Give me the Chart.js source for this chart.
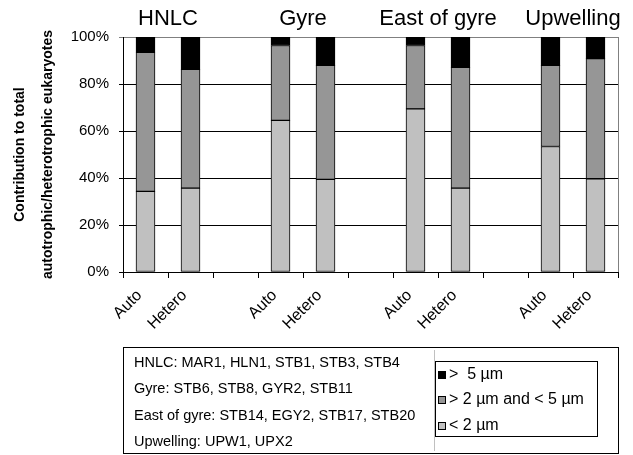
<!DOCTYPE html>
<html>
<head>
<meta charset="utf-8">
<script src="https://cdn.jsdelivr.net/npm/chart.js@4.4.1/dist/chart.umd.min.js"></script>
<style>
  html, body { margin: 0; padding: 0; background: #fff; }
  #box { width: 633px; height: 455px; }
</style>
</head>
<body>
<div id="box"><canvas id="GraficoTamanho"></canvas></div>
<script>
// data (percent of total, stacked to 100)
var categorias = ['Auto', 'Hetero', '', 'Auto', 'Hetero', '', 'Auto', 'Hetero', '', 'Auto', 'Hetero'];
var grupos = ['HNLC', 'Gyre', 'East of gyre', 'Upwelling'];
var menor2 = [34.3, 35.7, null, 64.5, 39.4, null, 69.4, 35.7, null, 53.4, 39.7];
var entre2e5 = [59.2, 50.5, null, 31.9, 48.5, null, 27.0, 51.4, null, 34.5, 51.1];
var maior5 = [6.5, 13.8, null, 3.6, 12.1, null, 3.6, 12.9, null, 12.1, 9.2];
var estacoes = [
    'HNLC: MAR1, HLN1, STB1, STB3, STB4',
    'Gyre: STB6, STB8, GYR2, STB11',
    'East of gyre: STB14, EGY2, STB17, STB20',
    'Upwelling: UPW1, UPX2'
];
var tituloY = ['Contribution to total', 'autotrophic/heterotrophic eukaryotes'];

var fonte = '"Liberation Sans", Arial, sans-serif';

// group names above the bars, axis title, right border and the box at the bottom
var extras = {
    id: 'extras',
    afterDraw: function (chart) {
        var ctx = chart.ctx;
        var x = chart.scales.x;
        var area = chart.chartArea;
        ctx.save();

        ctx.strokeStyle = '#808080';
        ctx.lineWidth = 1;
        ctx.beginPath();
        ctx.moveTo(Math.round(area.right) + 0.5, area.top);
        ctx.lineTo(Math.round(area.right) + 0.5, area.bottom);
        ctx.stroke();

        ctx.fillStyle = '#000';
        ctx.font = '22px ' + fonte;
        ctx.textAlign = 'center';
        ctx.textBaseline = 'middle';
        for (var i = 0; i < grupos.length; i++) {
            var cx = (x.getPixelForValue(i * 3) + x.getPixelForValue(i * 3 + 1)) / 2;
            ctx.fillText(grupos[i], cx, 19);
        }

        ctx.font = 'bold 14px ' + fonte;
        var meio = (area.top + area.bottom) / 2;
        var posX = [20, 48];
        for (var j = 0; j < tituloY.length; j++) {
            ctx.save();
            ctx.translate(posX[j], meio);
            ctx.rotate(-Math.PI / 2);
            ctx.fillText(tituloY[j], 0, 0);
            ctx.restore();
        }

        // outer box
        ctx.strokeStyle = '#000';
        ctx.strokeRect(123.5, 347.5, 495, 106);
        ctx.strokeStyle = '#c0c0c0';
        ctx.beginPath();
        ctx.moveTo(434.5, 350);
        ctx.lineTo(434.5, 451);
        ctx.stroke();

        ctx.textAlign = 'left';
        ctx.font = '14.5px ' + fonte;
        var linhasY = [363, 389, 416, 442];
        for (var k = 0; k < estacoes.length; k++) {
            ctx.fillText(estacoes[k], 134, linhasY[k]);
        }

        // legend
        ctx.strokeStyle = '#000';
        ctx.strokeRect(435.5, 361.5, 162, 75);
        var sets = chart.data.datasets.slice().reverse();
        var legY = [375, 400, 426];
        ctx.font = '16px ' + fonte;
        for (var m = 0; m < sets.length; m++) {
            ctx.fillStyle = sets[m].backgroundColor;
            ctx.fillRect(438.5, legY[m] - 3.5, 7, 7);
            ctx.strokeRect(438.5, legY[m] - 3.5, 7, 7);
            ctx.fillStyle = '#000';
            ctx.fillText(sets[m].label, 449, legY[m]);
        }
        ctx.restore();
    }
};

var ctx = document.getElementById('GraficoTamanho').getContext('2d');
var grafico = new Chart(ctx, {
    type: 'bar',
    data: {
        labels: categorias,
        datasets: [
            { label: '< 2 µm', data: menor2, backgroundColor: '#c0c0c0' },
            { label: '> 2 µm and < 5 µm', data: entre2e5, backgroundColor: '#969696' },
            { label: '>  5 µm', data: maior5, backgroundColor: '#000000' }
        ]
    },
    options: {
        responsive: true,
        maintainAspectRatio: false,
        animation: false,
        datasets: {
            bar: {
                barThickness: 19,
                borderColor: '#000',
                borderWidth: 1,
                borderSkipped: false
            }
        },
        layout: { padding: { top: 37, right: 15, bottom: 0, left: 0 } },
        plugins: {
            legend: { display: false },
            tooltip: { enabled: false }
        },
        scales: {
            x: {
                stacked: true,
                afterFit: function (scale) { scale.height = 183; },
                grid: {
                    offset: true,
                    drawOnChartArea: false,
                    color: '#000',
                    tickLength: 6
                },
                border: { color: '#000' },
                ticks: {
                    autoSkip: false,
                    maxRotation: 45,
                    minRotation: 45,
                    color: '#000',
                    padding: 8,
                    labelOffset: -6,
                    font: { family: fonte, size: 16 }
                }
            },
            y: {
                stacked: true,
                min: 0,
                max: 100,
                afterFit: function (scale) { scale.width = 123; },
                grid: {
                    color: function (c) { return c.tick && c.tick.value === 100 ? '#808080' : '#000'; },
                    tickLength: 4
                },
                border: { color: '#000' },
                ticks: {
                    stepSize: 20,
                    color: '#000',
                    padding: 10,
                    font: { family: fonte, size: 15 },
                    callback: function (v) { return v + '%'; }
                }
            }
        }
    },
    plugins: [extras]
});
</script>
</body>
</html>
